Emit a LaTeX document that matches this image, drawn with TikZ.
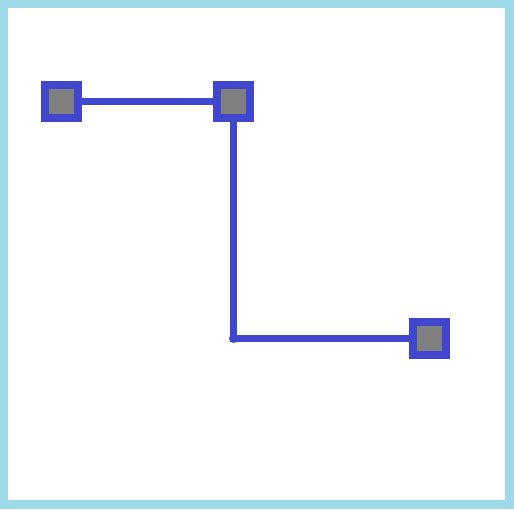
\documentclass[tikz,border=0pt]{standalone}
\usetikzlibrary{positioning}
\definecolor{wireblue}{RGB}{65,70,206}
\definecolor{framecyan}{RGB}{157,217,233}
\definecolor{padgray}{RGB}{128,128,128}

\begin{document}
\begin{tikzpicture}[x=1pt, y=-1pt,
    pad/.style={draw=wireblue, fill=padgray, line width=8pt, minimum size=33pt, inner sep=0pt},
    wire/.style={draw=wireblue, line width=7pt}]

    % frame
    \fill[framecyan] (0,0) rectangle (514,509);
    \fill[white] (8,8) rectangle (505,500);
    \useasboundingbox (0,0) rectangle (514,509);

    \node[pad] (p1) at (61.5,101) {};
    \node[pad] (p2) at (233.5,101) {};
    \node[pad] (p3) at (429.5,338.5) {};
    \coordinate (bend) at (233.5,338.5);

    \draw[wire] (p1) -- (p2);
    \draw[wire] (p2) -- (bend) -- (p3);

    % joint dot
    \fill[wireblue] (bend) circle (4.5pt);

\end{tikzpicture}
\end{document}
